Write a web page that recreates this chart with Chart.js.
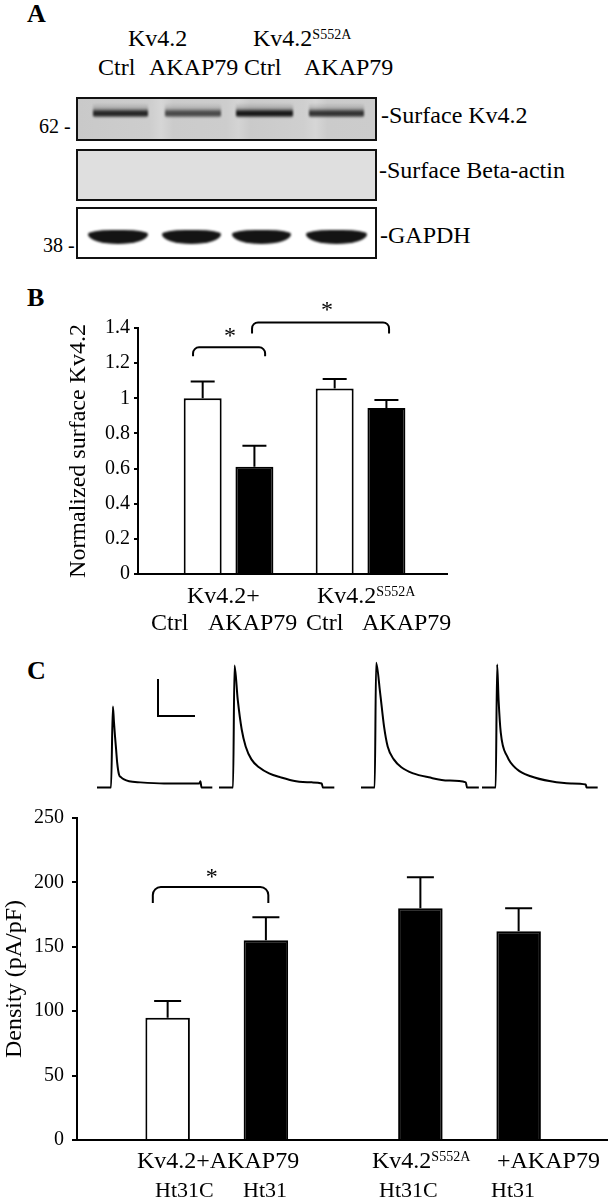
<!DOCTYPE html>
<html>
<head>
<meta charset="utf-8">
<script src="https://cdn.jsdelivr.net/npm/chart.js@4.4.1/dist/chart.umd.min.js"></script>
<style>
  body { margin: 0; background: #fff; }
  #fig { position: relative; width: 608px; height: 1200px; overflow: hidden;
         font-family: "Liberation Serif", "Times New Roman", serif; color: #000; }
  .t { position: absolute; white-space: nowrap; font-size: 24px; line-height: 1; }
  .s20 { font-size: 20px; }
  .s22 { font-size: 22px; }
  .lbl { position: absolute; font-weight: bold; font-size: 26px; line-height: 1; }
  sup { font-size: 14px; vertical-align: 7px; line-height: 0; }
  .box { position: absolute; left: 76px; width: 301px; box-sizing: border-box; border: 2px solid #111; }
  .band { position: absolute; border-radius: 3px; filter: blur(0.8px); }
  .kv { top: 103px; height: 15px;
        background: linear-gradient(to bottom, rgba(60,60,60,0) 0%, rgba(60,60,60,.25) 35%,
                    rgba(8,8,8,.95) 62%, rgba(8,8,8,.9) 82%, rgba(60,60,60,0) 100%); }
  .gapdh { top: 230px; height: 14px; background: #141414; border-radius: 40% 40% 50% 50% / 30% 30% 70% 70%; filter: blur(1.1px); }
  canvas { position: absolute; }
  #scalebar { position: absolute; left: 157px; top: 679px; width: 36px; height: 36px;
              border-left: 2px solid #000; border-bottom: 2px solid #000; }
</style>
</head>
<body>
<div id="fig">
  <!-- A: blot -->
  <div class="lbl" style="left:27px;top:1px">A</div>
  <div class="t" style="left:128px;top:26px">Kv4.2</div>
  <div class="t" style="left:253px;top:26px">Kv4.2<sup>S552A</sup></div>
  <div class="t" style="left:98px;top:55px">Ctrl</div>
  <div class="t" style="left:149px;top:55px">AKAP79</div>
  <div class="t" style="left:244px;top:55px">Ctrl</div>
  <div class="t" style="left:304px;top:55px">AKAP79</div>

  <div class="box" style="top:97px;height:44px;background:linear-gradient(to right,#c9c9c9 0%,#cdcdcd 24%,#d6d6d6 28%,#cbcbcb 32%,#cdcdcd 50%,#d4d4d4 54%,#cacaca 58%,#cfcfcf 76%,#d6d6d6 80%,#cbcbcb 84%,#cccccc 100%)"></div>
  <div class="box" style="top:149px;height:52px;background:#dfdfdf"></div>
  <div class="box" style="top:207px;height:52px;background:#fff"></div>

  <div class="band kv" style="left:93px;width:55px;opacity:.92"></div>
  <div class="band kv" style="left:165px;width:56px;opacity:.72"></div>
  <div class="band kv" style="left:236px;width:57px;opacity:1"></div>
  <div class="band kv" style="left:309px;width:55px;opacity:.85"></div>

  <div class="band gapdh" style="left:88px;width:60px"></div>
  <div class="band gapdh" style="left:162px;width:59px"></div>
  <div class="band gapdh" style="left:232px;width:59px"></div>
  <div class="band gapdh" style="left:306px;width:61px"></div>

  <div class="t s20" style="left:39px;top:116px">62 -</div>
  <div class="t s20" style="left:43px;top:235px">38 -</div>
  <div class="t" style="left:381px;top:103px">-Surface Kv4.2</div>
  <div class="t" style="left:379px;top:158px">-Surface Beta-actin</div>
  <div class="t" style="left:380px;top:223px">-GAPDH</div>

  <!-- B -->
  <div class="lbl" style="left:27px;top:285px">B</div>
  <canvas id="chartB" width="608" height="350" style="left:0;top:300px"></canvas>
  <div class="t" style="left:187px;top:583px">Kv4.2+</div>
  <div class="t" style="left:317px;top:583px">Kv4.2<sup>S552A</sup></div>
  <div class="t" style="left:151px;top:610px">Ctrl</div>
  <div class="t" style="left:208px;top:610px">AKAP79</div>
  <div class="t" style="left:306px;top:610px">Ctrl</div>
  <div class="t" style="left:362px;top:610px">AKAP79</div>

  <!-- C -->
  <div class="lbl" style="left:27px;top:658px">C</div>
  <div id="scalebar"></div>
  <canvas id="tr1" width="128" height="141" style="left:93px;top:654px"></canvas>
  <canvas id="tr2" width="128" height="141" style="left:215px;top:654px"></canvas>
  <canvas id="tr3" width="128" height="141" style="left:357px;top:654px"></canvas>
  <canvas id="tr4" width="128" height="141" style="left:478px;top:654px"></canvas>
  <canvas id="chartC" width="608" height="410" style="left:0;top:790px"></canvas>
  <div class="t" style="left:137px;top:1148px">Kv4.2+AKAP79</div>
  <div class="t" style="left:372px;top:1148px">Kv4.2<sup>S552A</sup></div>
  <div class="t" style="left:497px;top:1148px">+AKAP79</div>
  <div class="t s22" style="left:155px;top:1179px">Ht31C</div>
  <div class="t s22" style="left:243px;top:1179px">Ht31</div>
  <div class="t s22" style="left:379px;top:1179px">Ht31C</div>
  <div class="t s22" style="left:491px;top:1179px">Ht31</div>
</div>

<script>
// Panel B: normalized surface Kv4.2
const bGroups = ["Kv4.2+", "Kv4.2S552A"];
const bCtrl = [1.0, 1.055];
const bCtrlErr = [0.095, 0.055];
const bAkap = [0.61, 0.945];
const bAkapErr = [0.12, 0.045];
const bTicks = [0, 0.2, 0.4, 0.6, 0.8, 1, 1.2, 1.4];

// Panel C: current density (pA/pF)
const cGroups = ["Kv4.2+AKAP79", "Kv4.2S552A+AKAP79"];
const cHt31C = [95, 180];
const cHt31CErr = [13, 24];
const cHt31 = [155, 162];
const cHt31Err = [18, 18];
const cTicks = [0, 50, 100, 150, 200, 250];

// Panel C: example current traces (time in ms, current in nA)
const t1 = [0, 39, 44, 47, 50, 53, 56, 61, 67, 75, 89, 120, 186, 284, 287, 290, 320];
const i1 = [0, 0, 2.25, 1.83, 1.42, 1.06, 0.69, 0.36, 0.28, 0.22, 0.17, 0.14, 0.11, 0.11, 0.17, 0, 0];
const t2 = [0, 39, 43, 52, 63, 74, 90, 111, 139, 171, 214, 258, 285, 288, 320];
const i2 = [0, 0, 3.39, 2.44, 1.61, 1.14, 0.78, 0.56, 0.39, 0.28, 0.17, 0.14, 0.11, 0, 0];
const t3 = [0, 38, 42, 53, 64, 74, 91, 112, 145, 188, 242, 291, 294, 327];
const i3 = [0, 0, 3.47, 2.64, 1.69, 1.14, 0.78, 0.56, 0.39, 0.28, 0.19, 0.14, 0, 0];
const t4 = [0, 38, 42, 46, 52, 70, 98, 135, 191, 247, 288, 290, 321];
const i4 = [0, 0, 3.42, 2.44, 1.53, 0.86, 0.5, 0.31, 0.17, 0.11, 0.08, 0, 0];

const serif = "Liberation Serif";
Chart.defaults.font.family = serif;
Chart.defaults.color = "#000";
Chart.defaults.animation = false;
Chart.defaults.events = [];
Chart.defaults.plugins.legend.display = false;
Chart.defaults.plugins.tooltip.enabled = false;

// error bars + significance brackets
const marks = {
  id: "marks",
  afterDatasetsDraw(chart, args, opts) {
    const { ctx } = chart;
    const x = chart.scales.x, y = chart.scales.y;
    ctx.save();
    ctx.strokeStyle = "#000";
    ctx.fillStyle = "#000";
    ctx.lineWidth = 2;
    chart.data.datasets.forEach((ds, di) => {
      chart.getDatasetMeta(di).data.forEach((bar, i) => {
        const top = y.getPixelForValue(ds.data[i].y + ds.err[i]);
        ctx.beginPath();
        ctx.moveTo(bar.x, bar.y);
        ctx.lineTo(bar.x, top);
        ctx.moveTo(bar.x - opts.cap / 2, top);
        ctx.lineTo(bar.x + opts.cap / 2, top);
        ctx.stroke();
      });
    });
    ctx.font = "24px '" + serif + "'";
    ctx.textAlign = "center";
    ctx.textBaseline = "alphabetic";
    opts.brackets.forEach((b) => {
      const x1 = x.getPixelForValue(b.x1), x2 = x.getPixelForValue(b.x2);
      const yt = y.getPixelForValue(b.top), ye = y.getPixelForValue(b.end);
      const r = opts.r;
      ctx.beginPath();
      ctx.moveTo(x1, ye);
      ctx.arcTo(x1, yt, x1 + r, yt, r);
      ctx.arcTo(x2, yt, x2, ye, r);
      ctx.lineTo(x2, ye);
      ctx.stroke();
      ctx.fillText("*", x.getPixelForValue(b.sx), y.getPixelForValue(b.sy) + 11);
    });
    ctx.restore();
  },
};

function barChart(id, sets, ticks, yMax, title, o) {
  return new Chart(document.getElementById(id), {
    type: "bar",
    data: {
      datasets: sets.map((s) => ({
        data: s.values.map((v, i) => ({ x: i, y: v })),
        err: s.err,
        backgroundColor: s.colors,
        borderColor: "#000",
        borderWidth: 2,
        categoryPercentage: o.cp,
        barPercentage: o.bp,
      })),
    },
    options: {
      responsive: false,
      layout: { padding: o.pad },
      scales: {
        x: {
          type: "linear",
          offset: false,
          min: o.xmin,
          max: o.xmax,
          afterBuildTicks: (s) => { s.ticks = [{ value: 0 }, { value: 1 }]; },
          afterFit: (s) => { s.height = 0; },
          ticks: { display: false },
          grid: { display: false, offset: false },
          border: { display: true, color: "#000", width: 2 },
        },
        y: {
          min: 0,
          max: yMax,
          afterBuildTicks: (s) => { s.ticks = ticks.map((v) => ({ value: v })); },
          afterFit: (s) => { s.width = o.yw; },
          ticks: { font: { size: 20 }, padding: o.tp, callback: (v) => String(+v.toFixed(1)) },
          grid: { drawOnChartArea: false, drawTicks: true, tickLength: o.tl, color: "#000", lineWidth: 2 },
          border: { display: true, color: "#000", width: 2 },
          title: { display: true, text: title, font: { size: 24 }, padding: { top: o.titlePad, bottom: 0 } },
        },
      },
      plugins: { marks: { cap: o.cap, r: o.r, brackets: o.brackets } },
    },
    plugins: [marks],
  });
}

barChart("chartB",
  [
    { values: bCtrl, err: bCtrlErr, colors: "#fff" },
    { values: bAkap, err: bAkapErr, colors: "#000" },
  ],
  bTicks, 1.4, "Normalized surface Kv4.2",
  {
    pad: { top: 28, bottom: 76, left: 0, right: 161 },
    xmin: -0.686, xmax: 1.655, cp: 0.784, bp: 0.734,
    yw: 138, tl: 4, tp: 4, titlePad: 64, cap: 24, r: 6,
    brackets: [
      { x1: -0.269, x2: 0.277, top: 1.29, end: 1.239, sx: 0.011, sy: 1.375 },
      { x1: 0.178, x2: 1.216, top: 1.432, end: 1.369, sx: 0.746, sy: 1.523 },
    ],
  });

barChart("chartC",
  [
    { values: cHt31C, err: cHt31CErr, colors: ["#fff", "#000"] },
    { values: cHt31, err: cHt31Err, colors: "#000" },
  ],
  cTicks, 250, "Density (pA/pF)",
  {
    pad: { top: 28, bottom: 60, left: 0, right: 1 },
    xmin: -0.553, xmax: 1.544, cp: 0.7775, bp: 0.453,
    yw: 77, tl: 5, tp: 8, titlePad: 0, cap: 27, r: 8,
    brackets: [
      { x1: -0.253, x2: 0.204, top: 196.4, end: 184, sx: -0.02, sy: 207.3 },
    ],
  });

function trace(id, t, cur) {
  return new Chart(document.getElementById(id), {
    type: "line",
    data: {
      datasets: [{
        data: t.map((v, k) => ({ x: v, y: cur[k] })),
        borderColor: "#000",
        borderWidth: 2,
        pointRadius: 0,
        cubicInterpolationMode: "monotone",
        clip: false,
      }],
    },
    options: {
      responsive: false,
      layout: { padding: 4 },
      scales: {
        x: { type: "linear", min: 0, max: 333, display: false },
        y: { min: -0.1, max: 3.6, display: false },
      },
    },
  });
}

trace("tr1", t1, i1);
trace("tr2", t2, i2);
trace("tr3", t3, i3);
trace("tr4", t4, i4);
</script>
</body>
</html>
